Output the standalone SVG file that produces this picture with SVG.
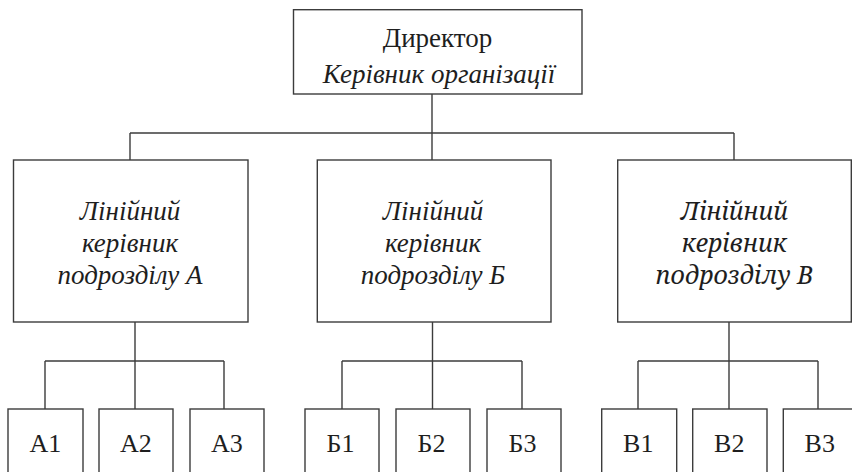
<svg xmlns="http://www.w3.org/2000/svg" width="852" height="472" viewBox="0 0 852 472">
  <rect width="852" height="472" fill="#ffffff"/>

  <g id="connectors" fill="none" stroke="#3c3c3c" stroke-width="1.4">
    <!-- director to line managers -->
    <path d="M432 94 V133 M130 133 H734 M130 133 V160 M432 133 V160 M734 133 V160"/>
    <!-- unit A -->
    <path d="M135 322 V361 M45 361 H224 M45 361 V409 M135 361 V409 M224 361 V409"/>
    <!-- unit Б -->
    <path d="M432.5 322 V361 M342 361 H522 M342 361 V409 M432.5 361 V409 M522 361 V409"/>
    <!-- unit В -->
    <path d="M729 322 V361 M638 361 H818 M638 361 V409 M729 361 V409 M818 361 V409"/>
  </g>

  <g fill="#ffffff" stroke="#3c3c3c" stroke-width="1.4">
    <g id="director">
      <rect x="293.5" y="9.7" width="288.5" height="84.3"/>
      <text x="437.5" y="47" font-family="serif" font-size="27" text-anchor="middle" fill="#1e1e1e" stroke="none">Директор</text>
      <text x="439" y="83" font-family="serif" font-size="27" font-style="italic" text-anchor="middle" fill="#1e1e1e" stroke="none">Керівник організації</text>
    </g>

    <g id="manager-a">
      <rect x="13.5" y="160" width="234.5" height="162"/>
      <text xml:lang="uk" x="130" y="220" font-family="Liberation Serif" font-size="27" font-style="italic" text-anchor="middle" fill="#1e1e1e" stroke="none">Лінійний</text>
      <text xml:lang="uk" x="130" y="251.5" font-family="Liberation Serif" font-size="27" font-style="italic" text-anchor="middle" fill="#1e1e1e" stroke="none">керівник</text>
      <text xml:lang="uk" x="130" y="284" font-family="Liberation Serif" font-size="27" font-style="italic" text-anchor="middle" fill="#1e1e1e" stroke="none">подрозділу А</text>
    </g>

    <g id="manager-b">
      <rect x="317.3" y="160" width="233.7" height="162"/>
      <text x="433" y="220" font-family="Times New Roman" font-size="27" font-style="italic" text-anchor="middle" fill="#1e1e1e" stroke="none">Лінійний</text>
      <text x="433" y="251.5" font-family="Times New Roman" font-size="27" font-style="italic" text-anchor="middle" fill="#1e1e1e" stroke="none">керівник</text>
      <text x="433" y="284" font-family="Times New Roman" font-size="27" font-style="italic" text-anchor="middle" fill="#1e1e1e" stroke="none">подрозділу Б</text>
    </g>

    <g id="manager-v">
      <rect x="617.7" y="160" width="233.6" height="162"/>
      <text x="734.5" y="220" font-family="Noto Serif" font-size="25" font-style="italic" text-anchor="middle" fill="#1e1e1e" stroke="none">Лінійний</text>
      <text x="734.5" y="251.5" font-family="Noto Serif" font-size="25" font-style="italic" text-anchor="middle" fill="#1e1e1e" stroke="none">керівник</text>
      <text x="734.5" y="284" font-family="Noto Serif" font-size="25" font-style="italic" text-anchor="middle" fill="#1e1e1e" stroke="none">подрозділу В</text>
    </g>

    <g id="a1"><rect x="8" y="409" width="75" height="100"/><text x="29.6" y="452" font-family="Liberation Serif" font-size="26" fill="#1e1e1e" stroke="none">А1</text></g>
    <g id="a2"><rect x="99" y="409" width="74" height="100"/><text x="120.1" y="452" font-family="Liberation Serif" font-size="26" fill="#1e1e1e" stroke="none">А2</text></g>
    <g id="a3"><rect x="190" y="409" width="74" height="100"/><text x="211.1" y="452" font-family="Liberation Serif" font-size="26" fill="#1e1e1e" stroke="none">А3</text></g>

    <g id="b1"><rect x="305" y="409" width="74" height="100"/><text x="326.6" y="452" font-family="Liberation Serif" font-size="26" fill="#1e1e1e" stroke="none">Б1</text></g>
    <g id="b2"><rect x="396" y="409" width="74" height="100"/><text x="417.6" y="452" font-family="Liberation Serif" font-size="26" fill="#1e1e1e" stroke="none">Б2</text></g>
    <g id="b3"><rect x="487" y="409" width="74" height="100"/><text x="508.6" y="452" font-family="Liberation Serif" font-size="26" fill="#1e1e1e" stroke="none">Б3</text></g>

    <g id="v1"><rect x="601.7" y="409" width="75" height="100"/><text x="623.1" y="452" font-family="Liberation Serif" font-size="26" fill="#1e1e1e" stroke="none">В1</text></g>
    <g id="v2"><rect x="692.7" y="409" width="74.3" height="100"/><text x="714.1" y="452" font-family="Liberation Serif" font-size="26" fill="#1e1e1e" stroke="none">В2</text></g>
    <g id="v3"><rect x="783.3" y="409" width="75" height="100"/><text x="804.6" y="452" font-family="Liberation Serif" font-size="26" fill="#1e1e1e" stroke="none">В3</text></g>
  </g>
</svg>
